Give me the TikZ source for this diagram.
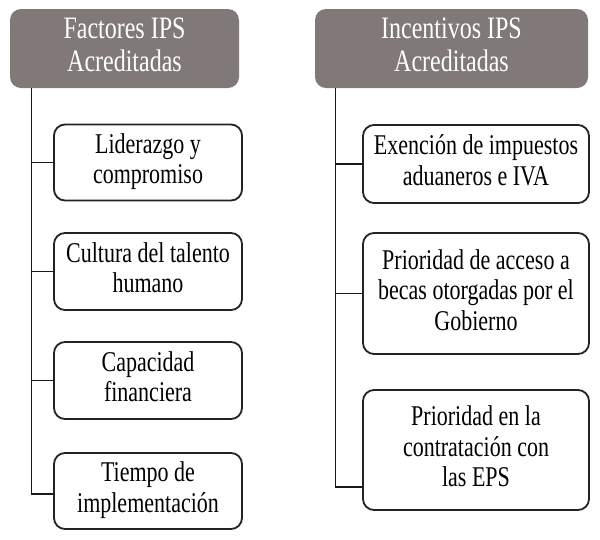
\documentclass[tikz,border=0pt]{standalone}
\usepackage{fontspec}
\setmainfont{Liberation Serif}
\usepackage{graphicx}
\definecolor{hdrgray}{RGB}{128,121,119}
\definecolor{boxline}{RGB}{35,35,35}
\newcommand{\vtxt}[1]{\scalebox{1}[1.3]{\begin{tabular}{@{}c@{}}#1\end{tabular}}}
\begin{document}
\begin{tikzpicture}[x=1pt,y=1pt,
  hdr/.style={fill=hdrgray, draw=none, rounded corners=11pt, text=white,
    font=\fontsize{24}{25.5}\selectfont, inner sep=0pt},
  item/.style={draw=boxline, line width=1.8pt, fill=white, rounded corners=11pt,
    text=black, font=\fontsize{22}{23.5}\selectfont, inner sep=0pt,
    minimum width=188pt},
  itemr/.style={item, minimum width=226pt},
  link/.style={draw=black!90, line width=1.2pt}]
\useasboundingbox (0,0) rectangle (600,-539);
% headers
\node[hdr, minimum width=229pt, minimum height=79pt] (hL) at (124.5,-48.5)
  {\vtxt{Factores IPS\\Acreditadas}};
\node[hdr, minimum width=273pt, minimum height=79pt] (hR) at (451.5,-48.5)
  {\vtxt{Incentivos IPS\\Acreditadas}};
% left items
\node[item, minimum height=76pt] (L1) at (148,-162.5) {\vtxt{Liderazgo y\\compromiso}};
\node[item, minimum height=77pt] (L2) at (148,-271.5) {\vtxt{Cultura del talento\\humano}};
\node[item, minimum height=77pt] (L3) at (148,-380.5) {\vtxt{Capacidad\\financiera}};
\node[item, minimum height=76pt] (L4) at (148,-491) {\vtxt{Tiempo de\\implementación}};
% right items
\node[itemr, minimum height=78pt] (R1) at (476,-164) {\vtxt{Exención de impuestos\\aduaneros e IVA}};
\node[itemr, minimum height=121pt] (R2) at (476,-293.5) {\vtxt{Prioridad de acceso a\\becas otorgadas por el\\Gobierno}};
\node[itemr, minimum height=120pt] (R3) at (476,-450) {\vtxt{Prioridad en la\\contratación con\\las EPS}};
% connectors
\coordinate (spL) at ([xshift=22pt]hL.south west);
\coordinate (spR) at ([xshift=21pt]hR.south west);
\coordinate (r3c) at ([yshift=-37pt]R3.west);
\draw[link] (spL) |- ([yshift=-3pt]L4.west);
\foreach \n in {L1,L2,L3} \draw[link] (\n.west) -- (spL |- \n.west);
\draw[link] (spR) |- (r3c);
\foreach \n in {R1,R2} \draw[link] (\n.west) -- (spR |- \n.west);
\end{tikzpicture}
\end{document}
